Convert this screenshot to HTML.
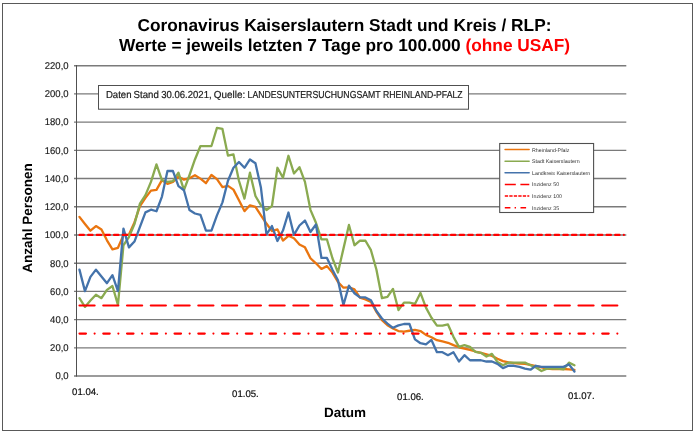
<!DOCTYPE html>
<html lang="de">
<head>
<meta charset="utf-8">
<title>Coronavirus Kaiserslautern Stadt und Kreis / RLP</title>
<style>
html,body{margin:0;padding:0;background:#fff;}
body{width:696px;height:434px;overflow:hidden;font-family:"Liberation Sans",sans-serif;}
svg{display:block;text-rendering:geometricPrecision;}
.t{font-family:"Liberation Sans",sans-serif;font-weight:bold;font-size:17.3px;fill:#000;}
.ax{font-family:"Liberation Sans",sans-serif;font-size:9.8px;fill:#1a1a1a;stroke:#1a1a1a;stroke-width:0.15px;}
.xl{font-family:"Liberation Sans",sans-serif;font-size:9.6px;fill:#111;stroke:#111;stroke-width:0.2px;}
.at{font-family:"Liberation Sans",sans-serif;font-weight:bold;font-size:13.5px;fill:#000;}
.lg{font-family:"Liberation Sans",sans-serif;font-size:5.3px;fill:#333;}
.nb{font-family:"Liberation Sans",sans-serif;font-size:10.1px;fill:#1a1a1a;stroke:#1a1a1a;stroke-width:0.2px;}
</style>
</head>
<body>
<svg width="696" height="434" viewBox="0 0 696 434">
<rect x="0" y="0" width="696" height="434" fill="#fff"/>
<rect x="2.5" y="3.5" width="690" height="427" fill="#fff" stroke="#595959" stroke-width="1"/>
<text class="t" x="344.5" y="31.4" text-anchor="middle">Coronavirus Kaiserslautern Stadt und Kreis / RLP:</text>
<text class="t" x="344.5" y="51" text-anchor="middle">Werte = jeweils letzten 7 Tage pro 100.000 <tspan fill="#ff0000">(ohne USAF)</tspan></text>
<g stroke="#7a7a7a" stroke-width="1.4" fill="none">
<line x1="74" y1="376.05" x2="626.3" y2="376.05"/>
<line x1="74" y1="347.84" x2="626.3" y2="347.84"/>
<line x1="74" y1="319.62" x2="626.3" y2="319.62"/>
<line x1="74" y1="291.41" x2="626.3" y2="291.41"/>
<line x1="74" y1="263.20" x2="626.3" y2="263.20"/>
<line x1="74" y1="234.98" x2="626.3" y2="234.98"/>
<line x1="74" y1="206.77" x2="626.3" y2="206.77"/>
<line x1="74" y1="178.55" x2="626.3" y2="178.55"/>
<line x1="74" y1="150.34" x2="626.3" y2="150.34"/>
<line x1="74" y1="122.13" x2="626.3" y2="122.13"/>
<line x1="74" y1="93.91" x2="626.3" y2="93.91"/>
<line x1="74" y1="65.70" x2="626.3" y2="65.70"/>
<line x1="76.5" y1="65.1" x2="76.5" y2="376.6" stroke="#505050" stroke-width="1"/>
</g>
<g class="ax">
<text transform="translate(68.6,379.35) scale(0.97,1)" text-anchor="end">0,0</text>
<text transform="translate(68.6,351.14) scale(0.97,1)" text-anchor="end">20,0</text>
<text transform="translate(68.6,322.92) scale(0.97,1)" text-anchor="end">40,0</text>
<text transform="translate(68.6,294.71) scale(0.97,1)" text-anchor="end">60,0</text>
<text transform="translate(68.6,266.50) scale(0.97,1)" text-anchor="end">80,0</text>
<text transform="translate(68.6,238.28) scale(0.97,1)" text-anchor="end">100,0</text>
<text transform="translate(68.6,210.07) scale(0.97,1)" text-anchor="end">120,0</text>
<text transform="translate(68.6,181.85) scale(0.97,1)" text-anchor="end">140,0</text>
<text transform="translate(68.6,153.64) scale(0.97,1)" text-anchor="end">160,0</text>
<text transform="translate(68.6,125.43) scale(0.97,1)" text-anchor="end">180,0</text>
<text transform="translate(68.6,97.21) scale(0.97,1)" text-anchor="end">200,0</text>
<text transform="translate(68.6,69.00) scale(0.97,1)" text-anchor="end">220,0</text>
</g>
<g class="xl">
<text x="72.1" y="395.1">01.04.</text>
<text x="232.1" y="396.6">01.05.</text>
<text x="397.1" y="399.6">01.06.</text>
<text x="567.9" y="398.8">01.07.</text>
</g>
<text class="at" transform="translate(32.2,218) rotate(-90)" text-anchor="middle">Anzahl Personen</text>
<text class="at" x="345" y="416.7" text-anchor="middle">Datum</text>
<g fill="none" stroke-linejoin="round" stroke-linecap="round" stroke-width="2.3">
<polyline stroke="#ea750f" points="79.45,216.88 84.95,223.94 90.45,230.71 95.95,226.06 101.45,229.44 106.95,240.31 112.45,249.34 117.95,247.79 123.45,235.23 128.95,234.52 134.45,222.39 139.95,206.16 145.45,197.83 150.95,190.64 156.45,189.93 161.95,180.19 167.45,183.86 172.95,181.89 178.45,176.67 183.95,179.63 189.45,178.22 194.95,175.25 200.45,178.64 205.95,183.16 211.45,174.97 216.95,179.21 222.45,187.11 227.95,185.84 233.45,189.65 238.95,200.23 244.45,211.10 249.95,205.31 255.45,206.86 260.95,215.33 266.45,223.52 271.95,231.14 277.45,229.44 282.95,240.59 288.45,235.79 293.95,238.19 299.45,244.40 304.95,247.36 310.45,258.23 315.95,263.31 321.45,268.95 326.95,266.13 332.45,272.62 337.95,281.94 343.45,287.72 348.95,287.30 354.45,289.42 359.95,297.74 365.45,299.43 370.95,301.83 376.45,311.85 381.95,320.18 387.45,325.26 392.95,328.50 398.45,331.04 403.95,331.61 409.45,330.76 414.95,329.91 420.45,331.04 425.95,334.85 431.45,337.25 436.95,340.22 442.45,341.49 447.95,342.76 453.45,345.15 458.95,347.27 464.45,348.54 469.95,349.95 475.45,351.51 480.95,352.78 486.45,354.33 491.95,355.88 497.45,358.70 502.95,361.10 508.45,362.37 513.95,363.22 519.45,363.50 524.95,363.92 530.45,364.91 535.95,366.04 541.45,367.45 546.95,368.58 552.45,369.00 557.95,369.00 563.45,369.00 568.95,369.43 574.45,369.85"/>
<polyline stroke="#8aaa50" points="79.45,298.16 84.95,306.91 90.45,300.56 95.95,294.78 101.45,298.16 106.95,289.84 112.45,286.03 117.95,304.94 123.45,245.25 128.95,237.06 134.45,224.08 139.95,203.62 145.45,195.15 150.95,181.89 156.45,164.39 161.95,180.19 167.45,181.89 172.95,181.04 178.45,172.71 183.95,190.21 189.45,175.25 194.95,159.45 200.45,146.04 205.95,146.04 211.45,146.04 216.95,127.84 222.45,128.97 227.95,155.64 233.45,154.37 238.95,180.76 244.45,198.54 249.95,172.71 255.45,196.00 260.95,205.31 266.45,209.97 271.95,206.02 277.45,167.78 282.95,177.79 288.45,155.78 293.95,173.42 299.45,167.21 304.95,181.89 310.45,209.83 315.95,222.81 321.45,239.46 326.95,239.46 332.45,258.23 337.95,272.48 343.45,248.63 348.95,224.93 354.45,245.25 359.95,240.73 365.45,240.73 370.95,250.19 376.45,269.80 381.95,298.16 387.45,296.89 392.95,288.85 398.45,310.02 403.95,302.68 409.45,302.68 414.95,303.95 420.45,292.94 425.95,307.62 431.45,317.78 436.95,325.54 442.45,325.54 447.95,324.41 453.45,336.83 458.95,346.85 464.45,345.15 469.95,346.85 475.45,351.93 480.95,352.78 486.45,356.59 491.95,353.90 497.45,362.09 502.95,365.19 508.45,362.65 513.95,362.65 519.45,362.65 524.95,362.65 530.45,365.19 535.95,367.45 541.45,370.98 546.95,368.58 552.45,368.58 557.95,368.58 563.45,369.43 568.95,362.65 574.45,365.19"/>
<polyline stroke="#4473ab" points="79.45,269.66 84.95,291.11 90.45,276.86 95.95,269.66 101.45,276.57 106.95,283.21 112.45,275.16 117.95,291.11 123.45,228.60 128.95,247.36 134.45,241.58 139.95,226.90 145.45,212.37 150.95,209.69 156.45,211.24 161.95,196.56 167.45,171.02 172.95,171.02 178.45,186.12 183.95,190.21 189.45,209.97 194.95,213.50 200.45,214.91 205.95,230.57 211.45,230.57 216.95,215.33 222.45,202.35 227.95,180.76 233.45,167.78 238.95,161.99 244.45,167.78 249.95,159.45 255.45,163.26 260.95,187.81 266.45,234.38 271.95,226.06 277.45,241.01 282.95,230.57 288.45,212.51 293.95,234.95 299.45,225.49 304.95,220.55 310.45,231.98 315.95,224.50 321.45,257.95 326.95,257.95 332.45,269.80 337.95,280.24 343.45,304.94 348.95,285.61 354.45,293.23 359.95,297.46 365.45,297.46 370.95,300.28 376.45,311.01 381.95,318.48 387.45,323.56 392.95,327.80 398.45,325.40 403.95,323.99 409.45,323.99 414.95,339.37 420.45,343.18 425.95,344.45 431.45,339.93 436.95,352.21 442.45,352.21 447.95,355.17 453.45,352.21 458.95,361.52 464.45,355.17 469.95,360.25 475.45,360.25 480.95,360.25 486.45,361.52 491.95,361.52 497.45,363.92 502.95,368.16 508.45,365.76 513.95,365.76 519.45,366.89 524.95,368.58 530.45,369.71 535.95,365.76 541.45,366.89 546.95,366.89 552.45,366.89 557.95,366.89 563.45,366.89 568.95,364.35 574.45,371.54"/>
</g>
<g fill="none" stroke="#ff0000" stroke-width="2.16" stroke-linecap="round">
<line x1="79.5" y1="305.5" x2="621" y2="305.5" stroke-dasharray="15.12 8.64"/>
<line x1="79.5" y1="234.95" x2="623.9" y2="234.95" stroke-dasharray="4.42 4.22"/>
<line x1="79.5" y1="333.55" x2="621" y2="333.55" stroke-dasharray="6.48 8.64 0.01 8.63"/>
</g>
<rect x="98.5" y="85.5" width="370" height="23.7" fill="#fff" stroke="#505050" stroke-width="1"/>
<text class="nb" x="105.9" y="97.6" textLength="25.6" lengthAdjust="spacingAndGlyphs">Daten</text>
<text class="nb" x="133.6" y="97.6" textLength="25.2" lengthAdjust="spacingAndGlyphs">Stand</text>
<text class="nb" x="161.2" y="97.6" textLength="50.4" lengthAdjust="spacingAndGlyphs">30.06.2021,</text>
<text class="nb" x="213.8" y="97.6" textLength="31.4" lengthAdjust="spacingAndGlyphs">Quelle:</text>
<text class="nb" x="247.6" y="97.6" textLength="133.0" lengthAdjust="spacingAndGlyphs">LANDESUNTERSUCHUNGSAMT</text>
<text class="nb" x="383.0" y="97.6" textLength="79.6" lengthAdjust="spacingAndGlyphs">RHEINLAND-PFALZ</text>
<rect x="499.7" y="143.5" width="93.9" height="69" fill="#fff" stroke="#505050" stroke-width="1.1"/>
<g fill="none" stroke-width="1.4" stroke-linecap="round">
<line x1="505" y1="149.55" x2="529.2" y2="149.55" stroke="#ea750f"/>
<line x1="505" y1="161.2" x2="529.2" y2="161.2" stroke="#8aaa50"/>
<line x1="505" y1="172.8" x2="529.2" y2="172.8" stroke="#4473ab"/>
</g>
<g fill="none" stroke="#ff0000" stroke-width="1.5">
<line x1="504.8" y1="184.5" x2="529.3" y2="184.5" stroke-dasharray="11 4.6"/>
<line x1="504.8" y1="196.0" x2="529.3" y2="196.0" stroke-dasharray="3.3 1.2"/>
<line x1="504.8" y1="207.8" x2="529.3" y2="207.8" stroke-dasharray="5.6 4.2 1.4 4.5"/>
</g>
<g class="lg">
<text x="532" y="151.5">Rheinland-Pfalz</text>
<text x="532" y="163.3">Stadt Kaiserslautern</text>
<text x="532" y="175.2">Landkreis Kaiserslautern</text>
<text x="532" y="186.3">Inzidenz 50</text>
<text x="532" y="198.2">Inzidenz 100</text>
<text x="532" y="209.8">Inzidenz 35</text>
</g>
</svg>
</body>
</html>
